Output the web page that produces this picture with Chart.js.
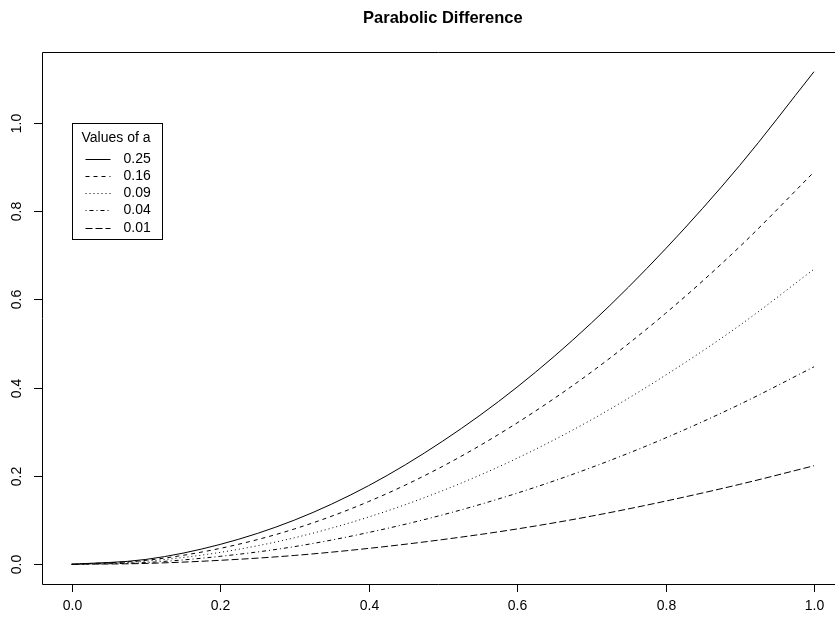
<!DOCTYPE html>
<html>
<head>
<meta charset="utf-8">
<script src="https://cdn.jsdelivr.net/npm/chart.js@4/dist/chart.umd.min.js"></script>
<style>
  html, body { margin: 0; padding: 0; background: #fff; overflow: hidden; }
  #wrap { width: 835px; height: 617px; }
</style>
</head>
<body>
<div id="wrap"><canvas id="chart" width="835" height="617"></canvas></div>
<script>
// datos
const xVals = [0, 0.1, 0.2, 0.3, 0.4, 0.5, 0.6, 0.7, 0.8, 0.9, 1.0];
const a025 = [0, 0.011, 0.045, 0.100, 0.178, 0.279, 0.401, 0.546, 0.714, 0.903, 1.115];
const a016 = [0, 0.009, 0.036, 0.080, 0.142, 0.222, 0.320, 0.435, 0.568, 0.719, 0.888];
const a009 = [0, 0.007, 0.027, 0.060, 0.107, 0.167, 0.240, 0.327, 0.428, 0.541, 0.668];
const a004 = [0, 0.004, 0.018, 0.040, 0.072, 0.112, 0.161, 0.219, 0.286, 0.362, 0.447];
const a001 = [0, 0.002, 0.009, 0.020, 0.036, 0.056, 0.080, 0.109, 0.143, 0.181, 0.223];

const seriesLabels = ['0.25', '0.16', '0.09', '0.04', '0.01'];
const seriesData = [a025, a016, a009, a004, a001];
const dashes = [[], [4, 4], [1, 3], [1, 3, 4, 3], [7, 3]];

const xTicks = [0, 0.2, 0.4, 0.6, 0.8, 1.0];
const yTicks = [0, 0.2, 0.4, 0.6, 0.8, 1.0];

const chartTitle = 'Parabolic Difference';
const legendTitle = 'Values of a';

const fontFam = "'Liberation Sans', Arial, Helvetica, sans-serif";

// marco, ejes, título y leyenda al estilo R
const rStyle = {
    id: 'rStyle',
    afterDraw(chart) {
        const ctx = chart.ctx;
        const area = chart.chartArea;
        const xs = chart.scales.x;
        const ys = chart.scales.y;
        ctx.save();
        ctx.strokeStyle = '#000';
        ctx.lineWidth = 1;
        ctx.setLineDash([]);

        // caja (lado derecho fuera del lienzo)
        ctx.beginPath();
        ctx.moveTo(chart.width, area.top + 0.5);
        ctx.lineTo(area.left + 0.5, area.top + 0.5);
        ctx.lineTo(area.left + 0.5, area.bottom + 0.5);
        ctx.lineTo(chart.width, area.bottom + 0.5);
        ctx.stroke();

        ctx.fillStyle = '#000';
        ctx.font = '14px ' + fontFam;

        // eje x
        ctx.textAlign = 'center';
        ctx.textBaseline = 'middle';
        xTicks.forEach(v => {
            const px = Math.round(xs.getPixelForValue(v)) + 0.5;
            ctx.beginPath();
            ctx.moveTo(px, area.bottom);
            ctx.lineTo(px, area.bottom + 8);
            ctx.stroke();
            ctx.fillText(v.toFixed(1), px, area.bottom + 22);
        });

        // eje y (etiquetas giradas)
        yTicks.forEach(v => {
            const py = Math.round(ys.getPixelForValue(v)) + 0.5;
            ctx.beginPath();
            ctx.moveTo(area.left - 8, py);
            ctx.lineTo(area.left, py);
            ctx.stroke();
            ctx.save();
            ctx.translate(area.left - 25, py);
            ctx.rotate(-Math.PI / 2);
            ctx.fillText(v.toFixed(1), 0, 0);
            ctx.restore();
        });

        // título
        ctx.font = 'bold 16.5px ' + fontFam;
        const xr = xs.getPixelForValue(1.04);
        ctx.fillText(chartTitle, (area.left + xr) / 2, 18);

        // leyenda
        const lx = Math.round(xs.getPixelForValue(0)) + 0.5;
        const ly = Math.round(ys.getPixelForValue(1.0)) + 0.5;
        ctx.strokeRect(lx, ly, 90, 116);
        ctx.font = '14px ' + fontFam;
        ctx.textAlign = 'left';
        ctx.fillText(legendTitle, lx + 9, ly + 15);
        chart.data.datasets.forEach((ds, i) => {
            const yy = Math.round(ly + 35 + i * 17.3) + 0.5;
            ctx.setLineDash(ds.borderDash);
            ctx.beginPath();
            ctx.moveTo(lx + 13, yy);
            ctx.lineTo(lx + 38, yy);
            ctx.stroke();
            ctx.setLineDash([]);
            ctx.fillText(ds.label, lx + 51, yy);
        });
        ctx.restore();
    }
};

new Chart(document.getElementById('chart'), {
    type: 'line',
    data: {
        datasets: seriesData.map((vals, i) => ({
            label: seriesLabels[i],
            data: xVals.map((x, j) => ({ x: x, y: vals[j] })),
            borderColor: '#000',
            borderWidth: 1,
            borderDash: dashes[i],
            pointRadius: 0,
            fill: false,
            cubicInterpolationMode: 'monotone'
        }))
    },
    options: {
        responsive: false,
        animation: false,
        devicePixelRatio: 1,
        layout: { padding: { left: 42, top: 52, right: 0, bottom: 33 } },
        scales: {
            x: { type: 'linear', min: -0.04, max: 1.0283, display: false },
            y: { type: 'linear', min: -0.0446, max: 1.1596, display: false }
        },
        plugins: {
            legend: { display: false },
            title: { display: false },
            tooltip: { enabled: false }
        }
    },
    plugins: [rStyle]
});
</script>
</body>
</html>
